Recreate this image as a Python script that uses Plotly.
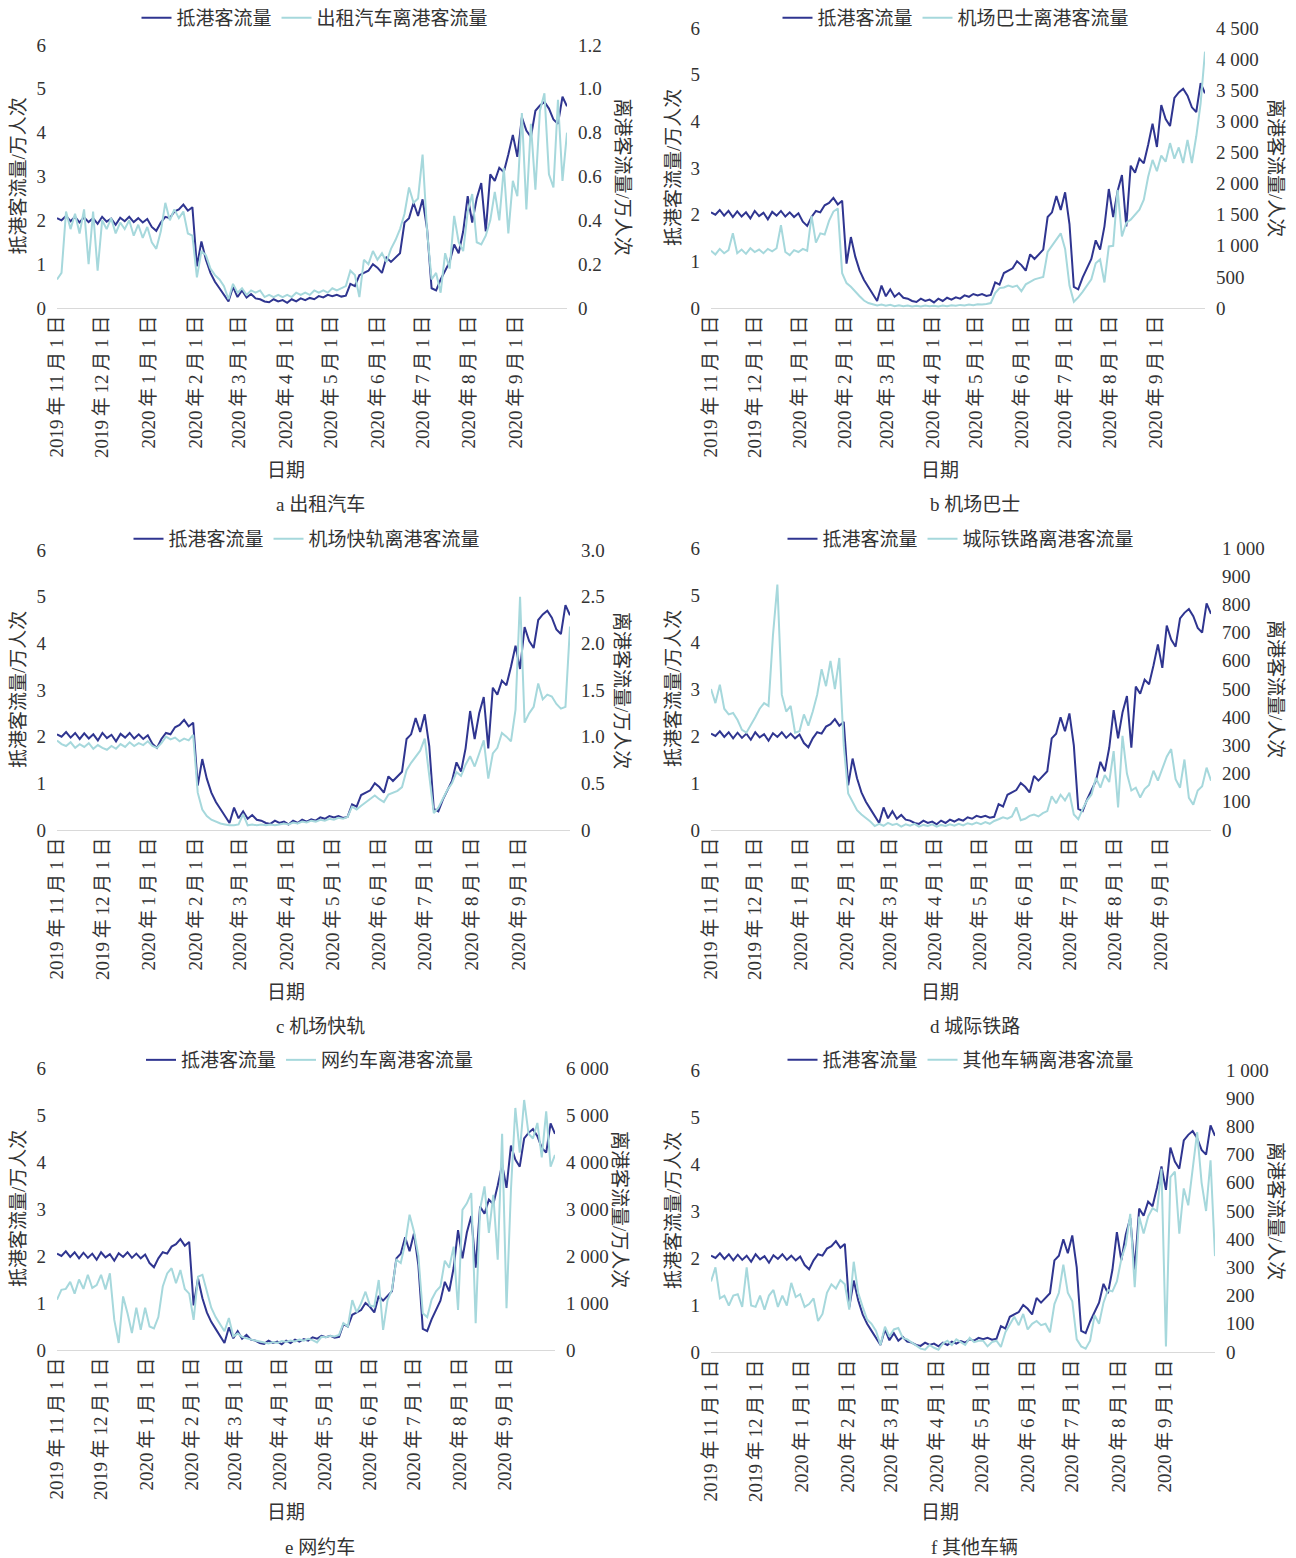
import plotly.graph_objects as go
import pandas as pd

W, H = 1296, 1558
DARK = "#2f3590"
LIGHT = "#a6d8dc"
TXT = "#333333"
FONT = "Liberation Serif, Noto Sans CJK SC, serif"

# ---------------- data (sampled every 3 days from 2019-11-01) ----------------
dates = pd.date_range("2019-11-01", periods=114, freq="3D")

arrival = [2.05, 2.00, 2.10, 1.98, 2.08, 1.95, 2.07, 1.96, 2.05, 1.92,
           2.08, 1.97, 2.04, 1.90, 2.06, 1.98, 2.08, 1.96, 2.05, 1.95,
           2.03, 1.85, 1.76, 1.95, 2.08, 2.05, 2.20, 2.25, 2.36, 2.22,
           2.30, 0.95, 1.52, 1.10, 0.80, 0.60, 0.45, 0.30, 0.15, 0.48,
           0.25, 0.40, 0.24, 0.32, 0.22, 0.20, 0.15, 0.13, 0.20, 0.15,
           0.18, 0.12, 0.20, 0.15, 0.22, 0.18, 0.23, 0.20, 0.27, 0.24,
           0.30, 0.27, 0.30, 0.26, 0.28, 0.55, 0.50, 0.75, 0.80, 0.85,
           1.00, 0.92, 0.80, 1.15, 1.05, 1.15, 1.25, 1.95, 2.05, 2.40,
           2.10, 2.48, 1.80, 0.45, 0.40, 0.65, 0.85, 1.05, 1.45, 1.25,
           1.75, 2.55, 1.95, 2.50, 2.85, 1.75, 3.05, 2.90, 3.20, 3.10,
           3.50, 3.95, 3.45, 4.35, 4.05, 3.90, 4.50, 4.62, 4.70, 4.55,
           4.30, 4.20, 4.82, 4.60]

taxi = [0.13, 0.16, 0.44, 0.36, 0.43, 0.34, 0.45, 0.20, 0.44, 0.17,
        0.40, 0.36, 0.41, 0.34, 0.39, 0.36, 0.40, 0.33, 0.38, 0.32,
        0.37, 0.30, 0.27, 0.35, 0.48, 0.40, 0.45, 0.41, 0.44, 0.34,
        0.33, 0.14, 0.26, 0.24, 0.18, 0.15, 0.13, 0.10, 0.04, 0.11,
        0.07, 0.09, 0.06, 0.08, 0.07, 0.08, 0.05, 0.06, 0.05, 0.06,
        0.05, 0.06, 0.05, 0.07, 0.06, 0.07, 0.06, 0.08, 0.07, 0.08,
        0.07, 0.09, 0.08, 0.09, 0.10, 0.17, 0.15, 0.05, 0.22, 0.20,
        0.26, 0.22, 0.25, 0.21, 0.27, 0.31, 0.36, 0.43, 0.55, 0.48,
        0.50, 0.70, 0.35, 0.13, 0.16, 0.07, 0.25, 0.18, 0.42, 0.30,
        0.26, 0.44, 0.52, 0.30, 0.29, 0.33, 0.40, 0.53, 0.40, 0.64,
        0.34, 0.58, 0.51, 0.89, 0.45, 0.84, 0.54, 0.90, 0.98, 0.61,
        0.55, 0.95, 0.58, 0.80]

bus = [920, 860, 950, 880, 930, 1200, 880, 940, 870, 960,
       900, 940, 880, 950, 910, 960, 1330, 900, 850, 930,
       900, 950, 920, 1480, 1050, 1200, 1180, 1400, 1550, 1600,
       560, 400, 340, 260, 190, 120, 80, 60, 40, 55,
       35, 50, 30, 45, 30, 40, 25, 35, 25, 40,
       30, 35, 25, 40, 30, 45, 35, 50, 40, 55,
       45, 60, 55, 65, 80, 240, 320, 330, 360, 340,
       360, 270, 380, 420, 460, 480, 500, 900, 1000, 1080,
       1200, 950, 360, 100, 170, 260, 360, 460, 720, 780,
       410, 990, 1000, 1900, 1150, 1370, 1420, 1500, 1580, 1740,
       2110, 2380, 2200, 2450, 2350, 2650, 2400, 2580, 2330, 2700,
       2330, 2760, 3290, 4120]

express = [0.96, 0.92, 0.90, 0.94, 0.88, 0.92, 0.89, 0.93, 0.87, 0.91,
           0.88, 0.86, 0.90, 0.87, 0.92, 0.89, 0.94, 0.90, 0.93, 0.91,
           0.95, 0.90, 0.88, 0.93, 1.00, 0.97, 0.99, 0.95, 0.98, 0.96,
           1.02, 0.40, 0.22, 0.15, 0.11, 0.09, 0.07, 0.06, 0.05, 0.05,
           0.06, 0.17, 0.05, 0.06, 0.05, 0.06, 0.05, 0.06, 0.05, 0.06,
           0.07, 0.06, 0.08, 0.07, 0.09, 0.08, 0.10, 0.09, 0.11, 0.10,
           0.12, 0.11, 0.13, 0.12, 0.14, 0.25, 0.22, 0.26, 0.30, 0.34,
           0.37, 0.33, 0.30, 0.38, 0.40, 0.42, 0.46, 0.64, 0.72, 0.79,
           0.85, 0.98, 0.60, 0.18, 0.24, 0.33, 0.43, 0.50, 0.62, 0.58,
           0.70, 0.79, 0.68, 0.82, 0.96, 0.55, 0.82, 0.88, 1.04, 1.00,
           0.95, 1.29, 2.50, 1.15, 1.25, 1.32, 1.57, 1.40, 1.45, 1.43,
           1.35, 1.30, 1.32, 2.18]

intercity = [500, 450, 515, 430, 410, 415, 390, 355, 345, 370,
             400, 430, 450, 440, 690, 870, 480, 420, 440, 345,
             350, 410, 370, 420, 480, 570, 510, 600, 500, 610,
             300, 130, 100, 70, 55, 43, 30, 14, 22, 15,
             25, 18, 22, 12, 20, 15, 22, 12, 18, 14,
             20, 12, 18, 14, 20, 15, 22, 16, 24, 20,
             26, 21, 28, 22, 32, 38, 45, 40, 48, 80,
             35, 40, 50, 55, 48, 60, 67, 120, 95, 125,
             105, 132, 55, 38, 75, 105, 126, 185, 150, 195,
             170, 280, 80, 334, 200, 140, 150, 115, 145, 160,
             210, 175, 220, 260, 287, 180, 150, 250, 114, 90,
             140, 155, 221, 175]

ridehail = [1070, 1280, 1300, 1450, 1200, 1500, 1300, 1600, 1320, 1380,
            1600, 1290, 1630, 640, 150, 1140, 780, 360, 900, 430,
            900, 500, 460, 700, 1350, 1630, 1740, 1420, 1700, 1300,
            1200, 640, 1560, 1600, 1250, 900, 700, 560, 400, 680,
            290, 350, 280, 250, 220, 200, 180, 160, 140, 170,
            150, 190, 170, 200, 180, 220, 200, 240, 210, 160,
            280, 270, 300, 290, 320, 570, 500, 1060, 800, 990,
            1240, 950, 920, 1490, 430, 1060, 1280, 1920, 1850, 2270,
            2880, 2520, 2000, 780, 700, 1070, 1250, 1350, 1900, 1750,
            2200, 850, 2980, 3120, 3340, 570, 3000, 3480, 2490, 3300,
            1920, 4600, 890, 3400, 5150, 4200, 5320, 4600, 4500, 4830,
            4100, 5080, 3900, 4150]

other = [250, 300, 190, 200, 165, 200, 205, 160, 300, 165,
         160, 200, 150, 200, 220, 160, 200, 165, 245, 195,
         205, 160, 170, 190, 110, 135, 210, 240, 225, 255,
         240, 150, 320, 210, 160, 115, 100, 75, 25, 90,
         55, 80, 85, 50, 45, 35, 25, 12, 8, 25,
         15, 8, 30, 40, 25, 45, 35, 25, 50, 35,
         40, 40, 20, 35, 40, 18, 70, 100, 125, 95,
         135, 80, 100, 110, 95, 100, 70, 170, 210, 310,
         210, 180, 45, 20, 12, 40, 130, 100, 175, 220,
         215, 250, 330, 380, 490, 230, 480, 420, 480, 510,
         500, 650, 20, 620, 640, 420, 580, 520, 640, 780,
         600, 500, 680, 340]

month_ticks = ["2019-11-01", "2019-12-01", "2020-01-01", "2020-02-01", "2020-03-01",
               "2020-04-01", "2020-05-01", "2020-06-01", "2020-07-01", "2020-08-01",
               "2020-09-01"]
month_labels = ["2019\u2009年\u200911\u2009月\u20091\u2009日",
                "2019\u2009年\u200912\u2009月\u20091\u2009日",
                "2020\u2009年\u20091\u2009月\u20091\u2009日",
                "2020\u2009年\u20092\u2009月\u20091\u2009日",
                "2020\u2009年\u20093\u2009月\u20091\u2009日",
                "2020\u2009年\u20094\u2009月\u20091\u2009日",
                "2020\u2009年\u20095\u2009月\u20091\u2009日",
                "2020\u2009年\u20096\u2009月\u20091\u2009日",
                "2020\u2009年\u20097\u2009月\u20091\u2009日",
                "2020\u2009年\u20098\u2009月\u20091\u2009日",
                "2020\u2009年\u20099\u2009月\u20091\u2009日"]
x_range = ["2019-11-01", "2020-10-05"]

left_ticks = [0, 1, 2, 3, 4, 5, 6]
ticks_a = [0, 0.2, 0.4, 0.6, 0.8, 1.0, 1.2]
labels_a = ["0", "0.2", "0.4", "0.6", "0.8", "1.0", "1.2"]
ticks_b = [0, 500, 1000, 1500, 2000, 2500, 3000, 3500, 4000, 4500]
labels_b = ["0", "500", "1 000", "1 500", "2 000", "2 500", "3 000", "3 500", "4 000", "4 500"]
ticks_c = [0, 0.5, 1.0, 1.5, 2.0, 2.5, 3.0]
labels_c = ["0", "0.5", "1.0", "1.5", "2.0", "2.5", "3.0"]
ticks_d = [0, 100, 200, 300, 400, 500, 600, 700, 800, 900, 1000]
labels_d = ["0", "100", "200", "300", "400", "500", "600", "700", "800", "900", "1 000"]
ticks_e = [0, 1000, 2000, 3000, 4000, 5000, 6000]
labels_e = ["0", "1 000", "2 000", "3 000", "4 000", "5 000", "6 000"]

# ---------------- panel layout (pixel boxes) ----------------
panels = [
    dict(series=taxi, name="出租汽车离港客流量", rticks=ticks_a, rlabels=labels_a,
         rtitle="离港客流量/万人次", caption="a 出租汽车",
         box=(57, 567, 45, 308), leg=(315, 18), ltx=18, rtx=622, xt=(286, 470), cap=(320, 504)),
    dict(series=bus, name="机场巴士离港客流量", rticks=ticks_b, rlabels=labels_b,
         rtitle="离港客流量/人次", caption="b 机场巴士",
         box=(711, 1205, 28, 308), leg=(956, 18), ltx=673, rtx=1276, xt=(940, 470), cap=(975, 504)),
    dict(series=express, name="机场快轨离港客流量", rticks=ticks_c, rlabels=labels_c,
         rtitle="离港客流量/万人次", caption="c 机场快轨",
         box=(57, 570, 550, 830), leg=(307, 539), ltx=18, rtx=622, xt=(286, 992), cap=(320, 1026)),
    dict(series=intercity, name="城际铁路离港客流量", rticks=ticks_d, rlabels=labels_d,
         rtitle="离港客流量/人次", caption="d 城际铁路",
         box=(711, 1211, 548, 830), leg=(961, 539), ltx=673, rtx=1276, xt=(940, 992), cap=(975, 1026)),
    dict(series=ridehail, name="网约车离港客流量", rticks=ticks_e, rlabels=labels_e,
         rtitle="离港客流量/万人次", caption="e 网约车",
         box=(57, 555, 1068, 1350), leg=(310, 1060), ltx=18, rtx=620, xt=(286, 1512), cap=(320, 1547)),
    dict(series=other, name="其他车辆离港客流量", rticks=ticks_d, rlabels=labels_d,
         rtitle="离港客流量/人次", caption="f 其他车辆",
         box=(711, 1215, 1070, 1352), leg=(961, 1060), ltx=673, rtx=1276, xt=(940, 1512), cap=(975, 1547)),
]


def px(x):
    return x / W


def py(y):
    return 1 - y / H


fig = go.Figure()
layout = dict(width=W, height=H, margin=dict(l=0, r=0, t=0, b=0, pad=0, autoexpand=False),
              paper_bgcolor="white", plot_bgcolor="white",
              font=dict(family=FONT, size=19, color=TXT), annotations=[])

tickfont = dict(family=FONT, size=19, color=TXT)
titlefont = dict(family=FONT, size=19, color=TXT)

for i, p in enumerate(panels):
    k = i + 1
    xname = "xaxis" if k == 1 else f"xaxis{k}"
    xref = "x" if k == 1 else f"x{k}"
    yl_i, yr_i = 2 * k - 1, 2 * k
    ylname = "yaxis" if yl_i == 1 else f"yaxis{yl_i}"
    ylref = "y" if yl_i == 1 else f"y{yl_i}"
    yrname = f"yaxis{yr_i}"
    yrref = f"y{yr_i}"
    legname = "legend" if k == 1 else f"legend{k}"
    x0, x1, ytop, ybot = p["box"]

    layout[xname] = dict(domain=[px(x0), px(x1)], anchor=ylref, type="date",
                         range=x_range, tickmode="array", tickvals=month_ticks,
                         ticktext=month_labels, tickangle=-90, tickfont=tickfont,
                         showline=True, linecolor="#d9d9d9", linewidth=1,
                         showgrid=False, zeroline=False, ticks="", ticklabelstandoff=-1,
                         automargin=False)
    layout[ylname] = dict(domain=[py(ybot), py(ytop)], anchor=xref, range=[0, 6],
                          tickmode="array", tickvals=left_ticks,
                          ticktext=[str(v) for v in left_ticks], tickfont=tickfont,
                          showgrid=False, zeroline=False, showline=False, ticks="",
                          ticklabelstandoff=10, automargin=False)
    layout[yrname] = dict(domain=[py(ybot), py(ytop)], anchor=xref, overlaying=ylref,
                          side="right", range=[0, p["rticks"][-1]], tickmode="array",
                          tickvals=p["rticks"], ticktext=p["rlabels"], tickfont=tickfont,
                          showgrid=False, zeroline=False, showline=False, ticks="",
                          ticklabelstandoff=10, automargin=False)
    layout[legname] = dict(x=px(p["leg"][0]), y=py(p["leg"][1]), xanchor="center",
                           yanchor="middle", orientation="h", bgcolor="rgba(0,0,0,0)",
                           font=dict(family=FONT, size=19, color=TXT), itemwidth=30)

    fig.add_trace(go.Scatter(x=dates, y=arrival, xaxis=xref, yaxis=ylref, mode="lines",
                             line=dict(color=DARK, width=2), name="抵港客流量",
                             legend=legname))
    fig.add_trace(go.Scatter(x=dates, y=p["series"], xaxis=xref, yaxis=yrref, mode="lines",
                             line=dict(color=LIGHT, width=2), name=p["name"],
                             legend=legname))

    yc = (ytop + ybot) / 2
    layout["annotations"] += [
        dict(text="抵港客流量/万人次", x=px(p["ltx"]), y=py(yc), xref="paper", yref="paper",
             textangle=-90, showarrow=False, font=titlefont, xanchor="center", yanchor="middle"),
        dict(text=p["rtitle"], x=px(p["rtx"]), y=py(yc), xref="paper", yref="paper",
             textangle=90, showarrow=False, font=titlefont, xanchor="center", yanchor="middle"),
        dict(text="日期", x=px(p["xt"][0]), y=py(p["xt"][1]), xref="paper", yref="paper",
             showarrow=False, font=titlefont, xanchor="center", yanchor="middle"),
        dict(text=p["caption"], x=px(p["cap"][0]), y=py(p["cap"][1]), xref="paper",
             yref="paper", showarrow=False, font=titlefont, xanchor="center", yanchor="middle"),
    ]

fig.update_layout(**layout)
fig.write_html("out.html", config={"displayModeBar": False},
               post_script="document.body.style.margin='0px';document.body.style.padding='0px';")
